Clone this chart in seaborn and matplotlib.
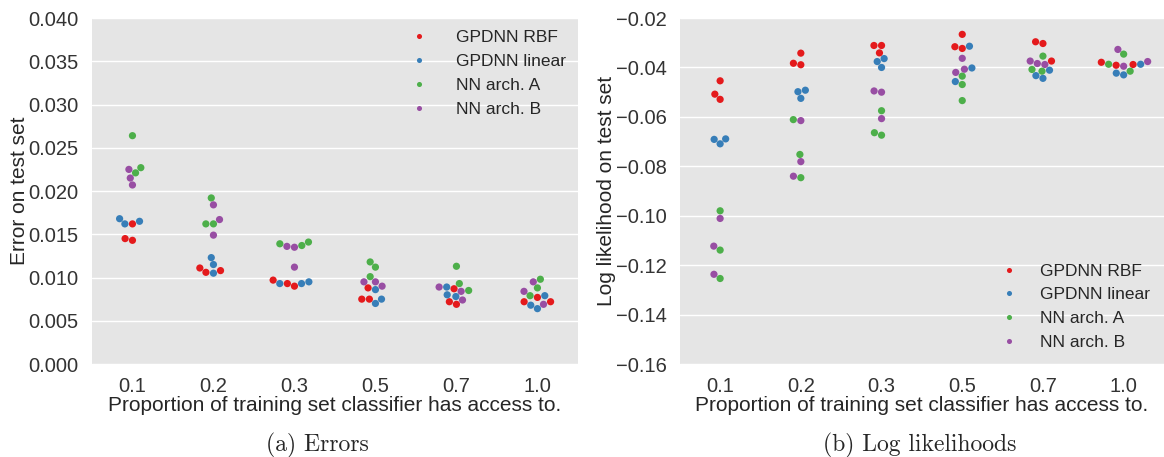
import pandas as pd
import matplotlib
matplotlib.use('Agg')
import matplotlib.pyplot as plt
import seaborn as sns

# Categories and series names
props = ['0.1', '0.2', '0.3', '0.5', '0.7', '1.0']
models = ['GPDNN RBF', 'GPDNN linear', 'NN arch. A', 'NN arch. B']

# Errors on test set, 3 runs per model per proportion
err_rbf = [[0.0162, 0.0145, 0.0143], [0.0111, 0.0106, 0.0108], [0.0090, 0.0093, 0.0097],
           [0.0088, 0.0075, 0.0075], [0.0087, 0.0072, 0.0069], [0.0077, 0.0072, 0.0072]]
err_lin = [[0.0168, 0.0162, 0.0165], [0.0123, 0.0115, 0.0105], [0.0095, 0.0093, 0.0093],
           [0.0086, 0.0075, 0.0070], [0.0089, 0.0080, 0.0078], [0.0079, 0.0068, 0.0064]]
err_a = [[0.0264, 0.0227, 0.0221], [0.0192, 0.0162, 0.0162], [0.0139, 0.0137, 0.0141],
         [0.0118, 0.0112, 0.0101], [0.0113, 0.0093, 0.0085], [0.0098, 0.0088, 0.0079]]
err_b = [[0.0225, 0.0215, 0.0207], [0.0184, 0.0167, 0.0149], [0.0136, 0.0135, 0.0112],
         [0.0095, 0.0095, 0.0090], [0.0084, 0.0089, 0.0074], [0.0095, 0.0084, 0.0069]]

# Log likelihoods on test set
ll_rbf = [[-0.0454, -0.0508, -0.0529], [-0.0342, -0.0383, -0.0389], [-0.0311, -0.0311, -0.0341],
          [-0.0266, -0.0316, -0.0323], [-0.0296, -0.0303, -0.0374], [-0.0391, -0.0388, -0.0379]]
ll_lin = [[-0.0691, -0.0689, -0.0709], [-0.0492, -0.0498, -0.0525], [-0.0364, -0.0376, -0.0400],
          [-0.0314, -0.0402, -0.0457], [-0.0411, -0.0433, -0.0444], [-0.0387, -0.0423, -0.0430]]
ll_a = [[-0.0980, -0.1139, -0.1254], [-0.0611, -0.0752, -0.0846], [-0.0575, -0.0664, -0.0674],
        [-0.0435, -0.0469, -0.0534], [-0.0354, -0.0408, -0.0415], [-0.0346, -0.0387, -0.0415]]
ll_b = [[-0.1011, -0.1123, -0.1237], [-0.0615, -0.0781, -0.0840], [-0.0495, -0.0500, -0.0607],
        [-0.0363, -0.0407, -0.0420], [-0.0388, -0.0384, -0.0374], [-0.0327, -0.0376, -0.0395]]


def to_long(series, col):
    rows = []
    for name, vals in zip(models, series):
        for p, runs in zip(props, vals):
            for v in runs:
                rows.append({'prop': p, 'model': name, col: v})
    return pd.DataFrame(rows)


df_err = to_long([err_rbf, err_lin, err_a, err_b], 'err')
df_ll = to_long([ll_rbf, ll_lin, ll_a, ll_b], 'll')

sns.set_style("darkgrid", {'axes.facecolor': '#E5E5E5', 'grid.color': 'white'})
plt.rcParams['font.family'] = ['Liberation Sans', 'DejaVu Sans']

fig = plt.figure(figsize=(11.64, 4.57), dpi=100)
ax1 = fig.add_axes([0.079, 0.2035, 0.4175, 0.757])
ax2 = fig.add_axes([0.584, 0.2035, 0.416, 0.757])

sns.swarmplot(data=df_err, x='prop', y='err', hue='model', order=props, hue_order=models,
              palette='Set1', size=5.2, ax=ax1)
sns.swarmplot(data=df_ll, x='prop', y='ll', hue='model', order=props, hue_order=models,
              palette='Set1', size=5.2, ax=ax2)

ax1.set_ylim(0, 0.04)
ax1.set_yticks([0.0, 0.005, 0.01, 0.015, 0.02, 0.025, 0.03, 0.035, 0.04])
ax1.set_yticklabels([f'{t:.3f}' for t in ax1.get_yticks()])
ax1.set_ylabel('Error on test set', fontsize=15, labelpad=0)

ax2.set_ylim(-0.16, -0.02)
ax2.set_yticks([-0.16, -0.14, -0.12, -0.10, -0.08, -0.06, -0.04, -0.02])
ax2.set_yticklabels([f'{t:.2f}'.replace('-', '\u2212') for t in ax2.get_yticks()])
ax2.set_ylabel('Log likelihood on test set', fontsize=15, labelpad=0)

for ax in (ax1, ax2):
    ax.set_xlabel('Proportion of training set classifier has access to.', fontsize=15, labelpad=0)
    ax.tick_params(axis='both', labelsize=14.5, colors='#333333', pad=6)
    ax.xaxis.grid(False)
    ax.yaxis.grid(True, color='white', linewidth=1)
    for s in ax.spines.values():
        s.set_visible(False)

ax1.legend(loc='upper right', frameon=False, fontsize=12.5, markerscale=0.7,
           handletextpad=1.1, labelspacing=0.5, borderaxespad=0.3)
ax2.legend(loc='lower right', frameon=False, fontsize=12.5, markerscale=0.7,
           handletextpad=0.8, labelspacing=0.5, borderaxespad=0.4)

# Sub-figure captions
fig.text(0.273, 0.026, '(a) Errors', ha='center', va='center', fontsize=17, family='cmr10')
fig.text(0.790, 0.026, '(b) Log likelihoods', ha='center', va='center', fontsize=17, family='cmr10')

fig.savefig('out.png', dpi=100)
